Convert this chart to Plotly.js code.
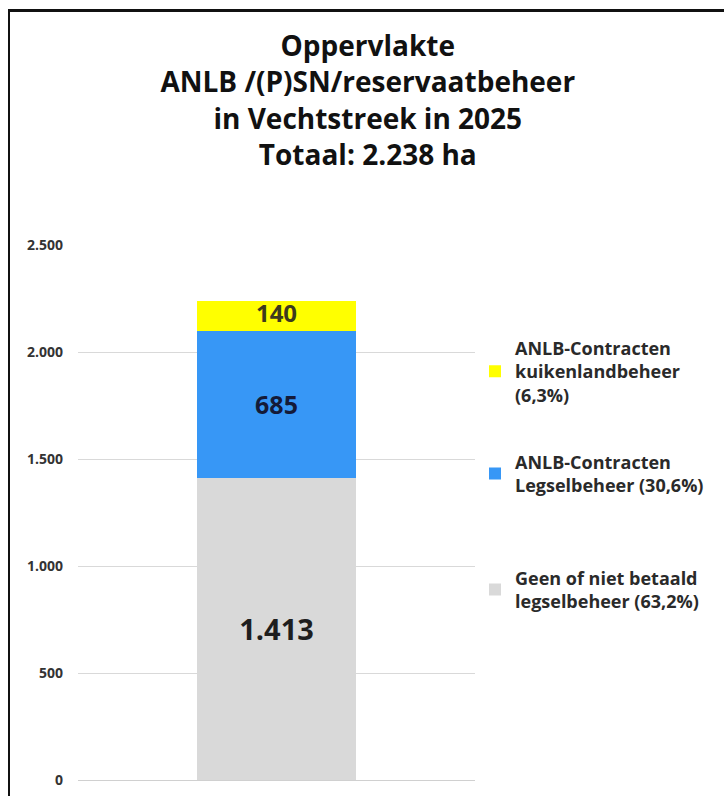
<!DOCTYPE html>
<html><head><meta charset="utf-8">
<script src="https://cdn.plot.ly/plotly-3.0.1.min.js"></script>
<style>
html,body{margin:0;padding:0;background:#fff;}
#wrap{position:relative;width:724px;height:796px;}
#chart{width:724px;height:796px;}
#frame{position:absolute;left:8px;top:9px;right:0;bottom:0;border-left:2px solid #111;border-top:3px solid #111;pointer-events:none;}
</style></head>
<body>
<div id="wrap"><div id="chart"></div><div id="frame"></div></div>
<script>
const categories = ['2025'];
const geenValues = [1413];
const legselValues = [685];
const kuikenValues = [140];
const seriesNames = [
  'Geen of niet betaald<br>legselbeheer (63,2%)',
  'ANLB-Contracten<br>Legselbeheer (30,6%)',
  'ANLB-Contracten<br>kuikenlandbeheer<br>(6,3%)'
];
const tickValues = [0, 500, 1000, 1500, 2000, 2500];
const titleText = 'Oppervlakte<br>ANLB /(P)SN/reservaatbeheer<br>in Vechtstreek in 2025<br>Totaal: 2.238 ha';

const FONT = '"Open Sans", Lato, sans-serif';
// label position for the thin top segment: middle of that segment, computed from the data
const kuikenLabelY = categories.map((c, i) => geenValues[i] + legselValues[i] + kuikenValues[i] / 2);

const traces = [
  {type:'bar', x:categories, y:geenValues, name:seriesNames[0], legend:'legend3',
   marker:{color:'#d9d9d9'}, width:0.4,
   texttemplate:'%{y:,d}', textposition:'inside', insidetextanchor:'middle',
   textfont:{family:FONT, size:29, color:'#1e1e1e', weight:'bold'}},
  {type:'bar', x:categories, y:legselValues, name:seriesNames[1], legend:'legend2',
   marker:{color:'#3797f6'}, width:0.4,
   texttemplate:'%{y:,d}', textposition:'inside', insidetextanchor:'middle',
   textfont:{family:FONT, size:25, color:'#141a38', weight:'bold'}},
  {type:'bar', x:categories, y:kuikenValues, name:seriesNames[2], legend:'legend',
   marker:{color:'#ffff00'}, width:0.4, textposition:'none'},
  {type:'scatter', mode:'text', x:categories, y:kuikenLabelY, showlegend:false, hoverinfo:'skip',
   text:kuikenValues.map(v => v.toLocaleString('nl-NL')), textposition:'middle center',
   textfont:{family:FONT, size:24, color:'#3d3a1e', weight:'bold'}}
];
const legFont = {family:FONT, size:18, color:'#2a2a2a', weight:'bold'};
const layout = {
  width:724, height:796,
  separators:',.',
  barmode:'stack',
  bargap:0.6,
  paper_bgcolor:'#ffffff', plot_bgcolor:'#ffffff',
  margin:{l:78, r:249, t:245, b:16},
  title:{text:titleText, x:0.508, xref:'container', xanchor:'center', y:0.93, yref:'container', yanchor:'top',
    font:{family:FONT, size:28, color:'#111', weight:'bold'}},
  xaxis:{showticklabels:false, showgrid:false, zeroline:false, showline:false, ticks:''},
  yaxis:{range:[0,2500], tickvals:tickValues, tickformat:',d', showgrid:true, gridcolor:'#d9d9d9', gridwidth:1,
    zeroline:true, zerolinecolor:'#d0d0d0', showline:false, ticks:'', ticklabelstandoff:14,
    tickfont:{family:FONT, size:14, color:'#333', weight:'bold'}},
  showlegend:true,
  legend:{x:1.0, xanchor:'left', y:0.842, yanchor:'top', bgcolor:'rgba(0,0,0,0)', font:legFont, itemwidth:30},
  legend2:{x:1.0, xanchor:'left', y:0.629, yanchor:'top', bgcolor:'rgba(0,0,0,0)', font:legFont, itemwidth:30},
  legend3:{x:1.0, xanchor:'left', y:0.412, yanchor:'top', bgcolor:'rgba(0,0,0,0)', font:legFont, itemwidth:30}
};
Plotly.newPlot('chart', traces, layout, {displayModeBar:false, staticPlot:true});
</script>
</body></html>
